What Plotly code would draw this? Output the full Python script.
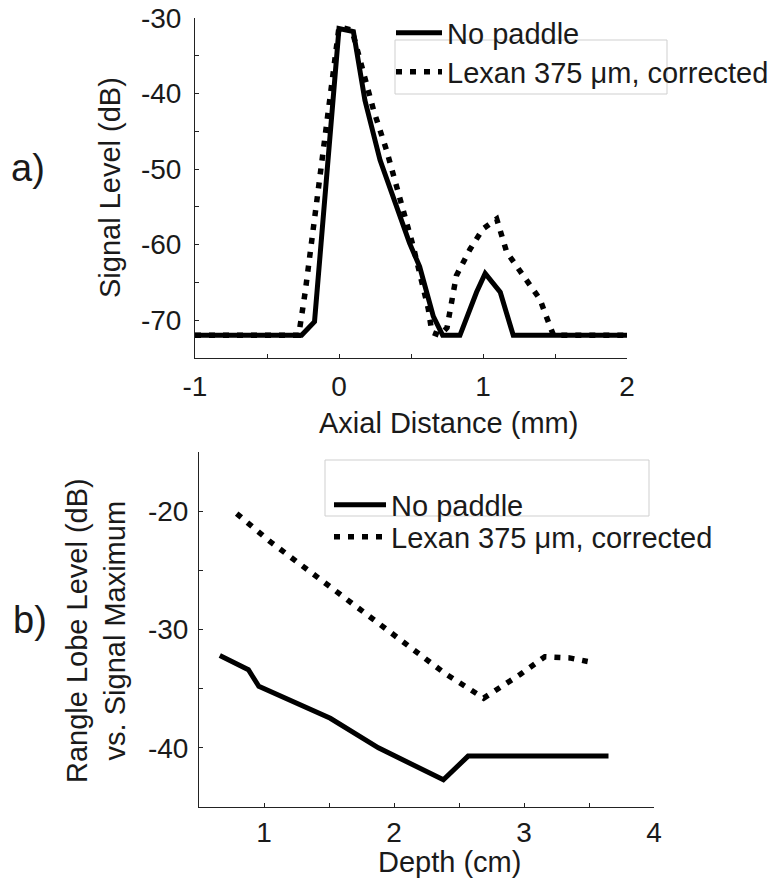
import plotly.graph_objects as go

W, H = 777, 881

# ---- Panel a) data : signal level vs axial distance ----
a_nopaddle_x = [-1.0, -0.26, -0.17, 0.0, 0.10, 0.18, 0.285, 0.49, 0.56, 0.655, 0.72, 0.84, 0.955, 1.015, 1.12, 1.21, 2.0]
a_nopaddle_y = [-72, -72, -70.2, -31.4, -31.8, -40.9, -48.8, -59.8, -62.9, -69.5, -72, -72, -66.3, -63.8, -66.3, -72, -72]
a_lexan_x = [-1.0, -0.28, -0.235, 0.0, 0.09, 0.24, 0.33, 0.515, 0.62, 0.645, 0.70, 0.75, 0.815, 0.91, 1.0, 1.095, 1.165, 1.28, 1.395, 1.465, 1.49, 2.0]
a_lexan_y = [-72, -72, -66.3, -31.2, -31.6, -42.2, -47.5, -60.2, -68.5, -71.6, -72, -71.0, -64.1, -60.6, -57.9, -56.6, -61, -64.1, -67.2, -70.8, -72, -72]

# ---- Panel b) data : range lobe level vs depth ----
b_nopaddle_x = [0.66, 0.88, 0.96, 1.51, 1.88, 1.99, 2.38, 2.57, 3.65]
b_nopaddle_y = [-32.2, -33.4, -34.8, -37.5, -40.0, -40.6, -42.7, -40.7, -40.7]
b_lexan_x = [0.79, 1.05, 1.51, 1.95, 2.39, 2.69, 2.97, 3.16, 3.35, 3.49]
b_lexan_y = [-20.2, -22.6, -26.4, -30.0, -33.7, -35.8, -33.8, -32.3, -32.4, -32.7]

series_names = ["No paddle", "Lexan 375 μm, corrected"]

# tick definitions
a_xticks = [-1, -0.5, 0, 0.5, 1, 1.5, 2]
a_xticktext = ["-1", "", "0", "", "1", "", "2"]
a_yticks = [-75, -70, -65, -60, -55, -50, -45, -40, -35, -30]
a_yticktext = ["", "-70", "", "-60", "", "-50", "", "-40", "", "-30"]
b_xticks = [0.5, 1, 1.5, 2, 2.5, 3, 3.5, 4]
b_xticktext = ["", "1", "", "2", "", "3", "", "4"]
b_yticks = [-45, -40, -35, -30, -25, -20, -15]
b_yticktext = ["", "-40", "", "-30", "", "-20", ""]

FONT = "Liberation Sans, Arial, sans-serif"
TXT = "#1a1a1a"
LW = 5
DOT = "6px,8px"

def px(x):
    return x / W

def py(y):
    return 1 - y / H

fig = go.Figure()
fig.add_trace(go.Scatter(x=a_nopaddle_x, y=a_nopaddle_y, mode="lines", name=series_names[0],
                         line=dict(color="black", width=LW), xaxis="x", yaxis="y", legend="legend"))
fig.add_trace(go.Scatter(x=a_lexan_x, y=a_lexan_y, mode="lines", name=series_names[1],
                         line=dict(color="black", width=LW + 0.5, dash=DOT), xaxis="x", yaxis="y", legend="legend2"))
fig.add_trace(go.Scatter(x=b_nopaddle_x, y=b_nopaddle_y, mode="lines", name=series_names[0],
                         line=dict(color="black", width=LW), xaxis="x2", yaxis="y2", legend="legend3"))
fig.add_trace(go.Scatter(x=b_lexan_x, y=b_lexan_y, mode="lines", name=series_names[1],
                         line=dict(color="black", width=LW + 0.5, dash=DOT), xaxis="x2", yaxis="y2", legend="legend4"))

axis_common = dict(showline=True, linecolor="#222", linewidth=1, ticks="inside", ticklen=4,
                   tickcolor="#222", showgrid=False, zeroline=False, mirror=False,
                   tickfont=dict(family=FONT, size=28, color=TXT), automargin=False, fixedrange=True)

fig.update_layout(
    width=W, height=H,
    margin=dict(l=0, r=0, t=0, b=0),
    paper_bgcolor="white", plot_bgcolor="white",
    font=dict(family=FONT, color=TXT),
    xaxis=dict(domain=[px(195), px(627)], range=[-1, 2], tickmode="array",
               tickvals=a_xticks, ticktext=a_xticktext, anchor="y", ticklabelstandoff=3, **axis_common),
    yaxis=dict(domain=[py(358), py(18)], range=[-75, -30], tickmode="array",
               tickvals=a_yticks, ticktext=a_yticktext, anchor="x", ticklabelstandoff=7, **axis_common),
    xaxis2=dict(domain=[px(199), px(654)], range=[0.5, 4], tickmode="array",
                tickvals=b_xticks, ticktext=b_xticktext, anchor="y2", ticklabelstandoff=0, **axis_common),
    yaxis2=dict(domain=[py(807), py(452)], range=[-45, -15], tickmode="array",
                tickvals=b_yticks, ticktext=b_yticktext, anchor="x2", ticklabelstandoff=4, **axis_common),
    showlegend=True,
)

leg_common = dict(bgcolor="rgba(0,0,0,0)", borderwidth=0, xanchor="left", yanchor="middle",
                  font=dict(family=FONT, size=29, color=TXT), itemclick=False,
                  itemdoubleclick=False)
fig.update_layout(
    legend=dict(x=px(391), y=py(33), itemwidth=46, **leg_common),
    legend2=dict(x=px(391), y=py(72), itemwidth=46, **leg_common),
    legend3=dict(x=px(329), y=py(505), itemwidth=52, **leg_common),
    legend4=dict(x=px(329), y=py(537), itemwidth=52, **leg_common),
)

# legend frames (drawn offset as in the original figure)
fig.add_shape(type="rect", xref="paper", yref="paper", x0=px(395), x1=px(667), y0=py(94), y1=py(40),
              line=dict(color="#cfcfcf", width=1), fillcolor="rgba(0,0,0,0)", layer="below")
fig.add_shape(type="rect", xref="paper", yref="paper", x0=px(325), x1=px(649), y0=py(516), y1=py(460),
              line=dict(color="#cfcfcf", width=1), fillcolor="rgba(0,0,0,0)", layer="below")

def ann(text, x, y, size, angle=0):
    fig.add_annotation(text=text, x=px(x), y=py(y), xref="paper", yref="paper", showarrow=False,
                       xanchor="center", yanchor="middle", textangle=angle,
                       font=dict(family=FONT, size=size, color=TXT))

ann("Signal Level (dB)", 110, 188, 29, -90)
ann("Axial Distance (mm)", 448, 423, 29)
ann("Rangle Lobe Level (dB)<br>vs. Signal Maximum", 96, 631, 29, -90)
ann("Depth (cm)", 450, 862, 29)
ann("a)", 28, 168, 38)
ann("b)", 30, 620, 38)

fig.write_html("out.html")
